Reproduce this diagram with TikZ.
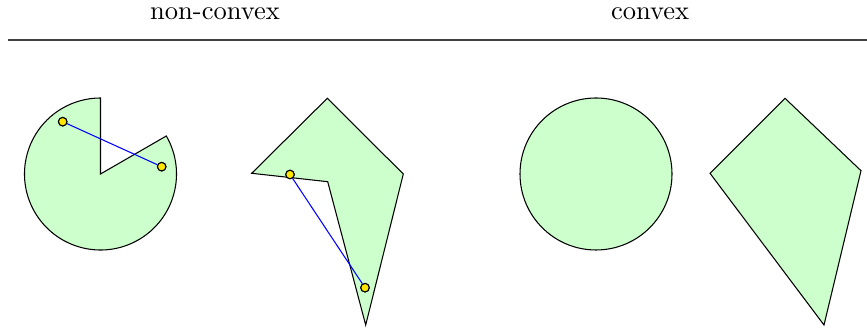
\documentclass[tikz,border=0pt]{standalone}
\definecolor{shapefill}{RGB}{204,255,204}
\definecolor{dotfill}{RGB}{255,230,0}
\tikzset{
  shapestyle/.style={draw=black, fill=shapefill, line width=0.4pt, line join=miter},
  dotstyle/.style={circle, draw=black, fill=dotfill, inner sep=0pt, minimum size=3.2pt, line width=0.4pt},
  segstyle/.style={draw=blue, line width=0.4pt},
  headstyle/.style={anchor=base, inner sep=0pt},
}
\begin{document}
\begin{tikzpicture}[x=0.3774pt,y=0.3774pt]
\useasboundingbox (0,0) rectangle (867,328);
% header
\node[headstyle] (h1) at (215,308) {non-convex};
\node[headstyle] (h2) at (650,308) {convex};
\coordinate (rl) at (8,287.5);
\coordinate (rr) at (867,287.5);
\draw[line width=0.75pt, black!75] (rl) -- (rr);
% pac-man
\coordinate (pc) at (100.5,154);
\path[shapestyle] (pc) -- ++(30:76) arc[start angle=30, end angle=-270, radius=76] -- cycle;
\node[dotstyle] (pa) at (62.7,206.3) {};
\node[dotstyle] (pb) at (161.7,161.3) {};
\draw[segstyle] (pa) -- (pb);
\node[dotstyle] at (pa) {};
\node[dotstyle] at (pb) {};
% non-convex polygon
\coordinate (n1) at (251.7,154.7);
\coordinate (n2) at (327.3,229.7);
\coordinate (n3) at (403.3,154);
\coordinate (n4) at (365.7,3);
\coordinate (n5) at (327.7,146.3);
\path[shapestyle] (n1) -- (n2) -- (n3) -- (n4) -- (n5) -- cycle;
\node[dotstyle] (qa) at (290,153.5) {};
\node[dotstyle] (qb) at (365,40.3) {};
\draw[segstyle] (qa) -- (qb);
\node[dotstyle] at (qa) {};
\node[dotstyle] at (qb) {};
% convex circle
\coordinate (cc) at (596,154);
\path[shapestyle] (cc) circle[radius=76];
% convex polygon
\coordinate (c1) at (710,154.7);
\coordinate (c2) at (785,229.7);
\coordinate (c3) at (861,157.3);
\coordinate (c4) at (824,3);
\path[shapestyle] (c1) -- (c2) -- (c3) -- (c4) -- cycle;
\end{tikzpicture}
\end{document}
